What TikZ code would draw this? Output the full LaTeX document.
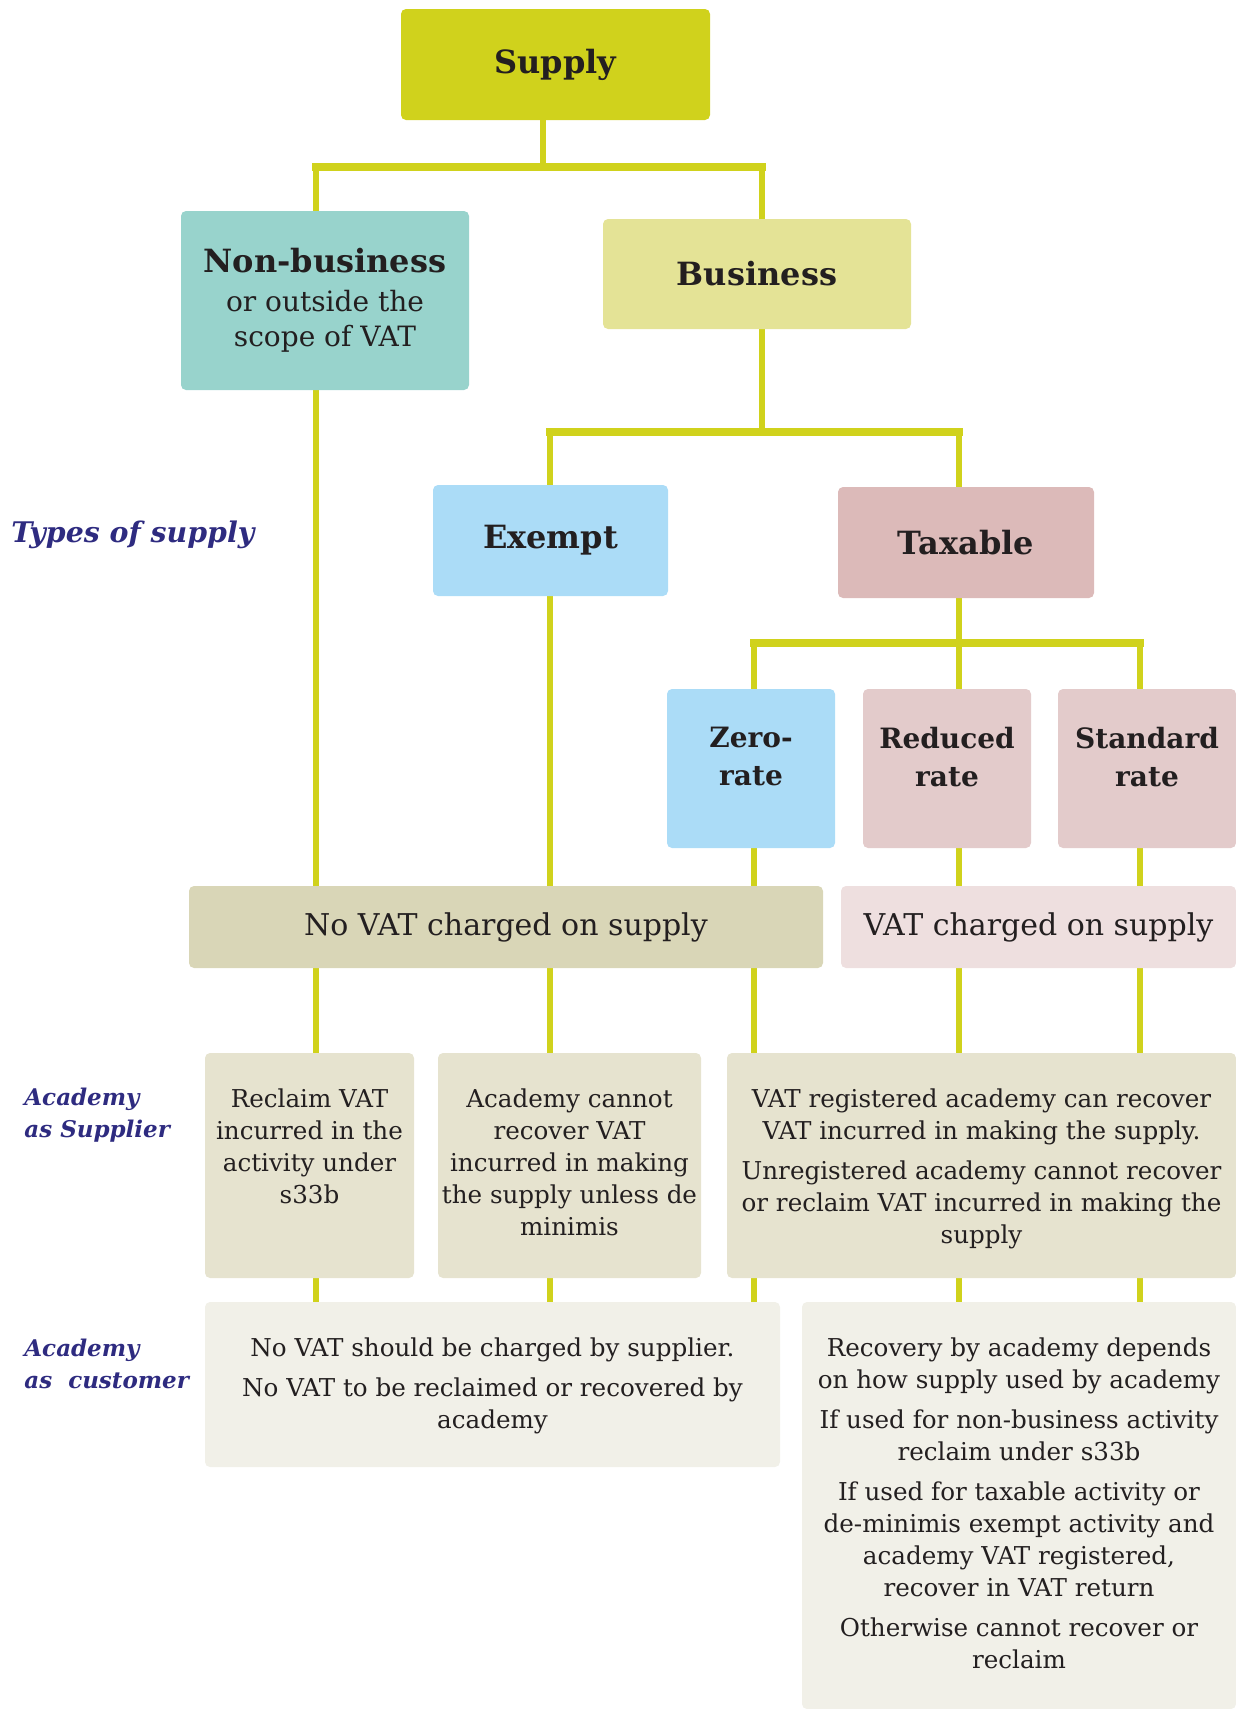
\documentclass[tikz,border=0pt]{standalone}
\usepackage{fontspec}
\setmainfont{DejaVu Serif}
\usetikzlibrary{backgrounds}

\definecolor{lime}{HTML}{D0D21C}
\definecolor{teal}{HTML}{98D3CC}
\definecolor{bizfill}{HTML}{E4E396}
\definecolor{skyfill}{HTML}{ABDCF7}
\definecolor{taxfill}{HTML}{DCBAB9}
\definecolor{rosefill}{HTML}{E3CBCB}
\definecolor{novatfill}{HTML}{D9D6B7}
\definecolor{vatfill}{HTML}{EEDFDF}
\definecolor{supfill}{HTML}{E6E3CF}
\definecolor{custfill}{HTML}{F1F0E8}
\definecolor{navy}{HTML}{2E2B80}
\definecolor{ink}{HTML}{231F20}

\tikzset{
    box/.style={rounded corners=2.5pt, inner sep=0pt, align=center, text=ink},
    head/.style={box, font=\fontsize{16}{19}\selectfont\bfseries},
    rate/.style={box, minimum width=84pt, minimum height=79.5pt},
    ratetext/.style={inner sep=0pt, align=center, text=ink,
        font=\fontsize{14}{19}\selectfont\bfseries},
    body/.style={inner sep=0pt, align=center, text=ink,
        font=\fontsize{12.3}{16}\selectfont},
    side/.style={inner sep=0pt, align=left, text=navy,
        font=\fontsize{11.5}{16}\selectfont\bfseries\itshape},
    link/.style={lime, line width=3.2pt},
    bar/.style={lime, line width=4.4pt, line cap=rect}
}

\begin{document}
\begin{tikzpicture}[x=0.5pt, y=-0.5pt]
    \useasboundingbox (0,0) rectangle (1236,1709);

    % Draw the tree of supplies
    \node[head, fill=lime, minimum width=154.5pt, minimum height=55.5pt] (supply) at (555.5,64.5) {Supply};
    \node[box, fill=teal, minimum width=144pt, minimum height=89.5pt,
        font=\fontsize{14}{17.5}\selectfont] (nonbiz) at (325,300.5)
        {{\fontsize{16}{19}\selectfont\bfseries Non-business}\\[2pt] or outside the\\ scope of VAT};
    \node[head, fill=bizfill, minimum width=154pt, minimum height=55pt] (biz) at (757,274) {Business};
    \node[head, fill=skyfill, minimum width=117.5pt, minimum height=55.5pt] (exempt) at (550.5,540.5) {Exempt};
    \node[head, fill=taxfill, minimum width=128pt, minimum height=55.5pt] (taxable) at (966,542.5) {Taxable};

    % Draw the rates of taxable supply
    \node[rate, fill=skyfill] (zero) at (751,768.5) {};
    \node[rate, fill=rosefill] (reduced) at (947,768.5) {};
    \node[rate, fill=rosefill, minimum width=89pt] (standard) at (1147,768.5) {};
    \node[ratetext, anchor=north] (zerotxt) at ([yshift=-19pt]zero.north) {Zero-\\rate};
    \node[ratetext, anchor=north] (reducedtxt) at ([yshift=-19pt]reduced.north) {Reduced\\rate};
    \node[ratetext, anchor=north] (standardtxt) at ([yshift=-19pt]standard.north) {Standard\\rate};

    % Charged or not
    \node[box, fill=novatfill, minimum width=317pt, minimum height=41pt,
        font=\fontsize{15}{18}\selectfont] (novat) at (506,927) {No VAT charged on supply};
    \node[box, fill=vatfill, minimum width=197.5pt, minimum height=41pt,
        font=\fontsize{15}{18}\selectfont] (vat) at (1038.5,927) {VAT charged on supply};

    % Academy as supplier
    \node[box, fill=supfill, minimum width=104.5pt, minimum height=112.5pt] (reclaim) at (309.5,1165.5) {};
    \node[box, fill=supfill, minimum width=131.5pt, minimum height=112.5pt] (cannot) at (569.5,1165.5) {};
    \node[box, fill=supfill, minimum width=254.5pt, minimum height=112.5pt] (registered) at (981.5,1165.5) {};
    \node[body, anchor=north] (reclaimtxt) at ([yshift=-18pt]reclaim.north)
        {Reclaim VAT\\incurred in the\\activity under\\s33b};
    \node[body, anchor=north] (cannottxt) at ([yshift=-18pt]cannot.north)
        {Academy cannot\\recover VAT\\incurred in making\\the supply unless de\\minimis};
    \node[body, anchor=north] (registeredtxt) at ([yshift=-18pt]registered.north)
        {VAT registered academy can recover\\VAT incurred in making the supply.\\[4pt]
         Unregistered academy cannot recover\\or reclaim VAT incurred in making the\\supply};

    % Academy as customer
    \node[box, fill=custfill, minimum width=287.5pt, minimum height=82.5pt] (custL) at (492.5,1384.5) {};
    \node[box, fill=custfill, minimum width=217pt, minimum height=203.5pt] (custR) at (1019,1505.5) {};
    \node[body, anchor=north] (custLtxt) at ([yshift=-18pt]custL.north)
        {No VAT should be charged by supplier.\\[4pt]
         No VAT to be reclaimed or recovered by\\academy};
    \node[body, anchor=north] (custRtxt) at ([yshift=-18pt]custR.north)
        {Recovery by academy depends\\on how supply used by academy\\[4pt]
         If used for non-business activity\\reclaim under s33b\\[4pt]
         If used for taxable activity or\\de-minimis exempt activity and\\academy VAT registered,\\recover in VAT return\\[4pt]
         Otherwise cannot recover or\\reclaim};

    % Row labels
    \node[side, anchor=west, font=\fontsize{14.2}{17}\selectfont\bfseries\itshape] (types) at (11,535) {Types of supply};
    \node[side, anchor=west] (assupplier) at (24,1115) {Academy\\as Supplier};
    \node[side, anchor=west] (ascustomer) at (24,1364) {Academy\\as\ \ customer};

    % Junctions of the tree
    \coordinate (trunk) at (543,167);
    \coordinate (bar1L) at (316,167);
    \coordinate (bar1R) at (762,167);
    \coordinate (bar2L) at (550,432);
    \coordinate (bar2R) at (959,432);
    \coordinate (bar3L) at (754,643);
    \coordinate (bar3R) at (1140,643);

    % Connectors go behind the boxes
    \begin{pgfonlayer}{background}
        \draw[link] (trunk |- supply.south) -- (trunk);
        \draw[link] (bar1R) -- (bar1R |- bar2L);
        \foreach \b in {bar1,bar2,bar3} {
            \draw[bar] (\b L) -- (\b R);
        }
        \foreach \c in {bar1L,bar2L,bar3L} {
            \draw[link] (\c) -- (\c |- custL.north);
        }
        \foreach \c in {bar2R,bar3R} {
            \draw[link] (\c) -- (\c |- custR.north);
        }
    \end{pgfonlayer}

\end{tikzpicture}
\end{document}
